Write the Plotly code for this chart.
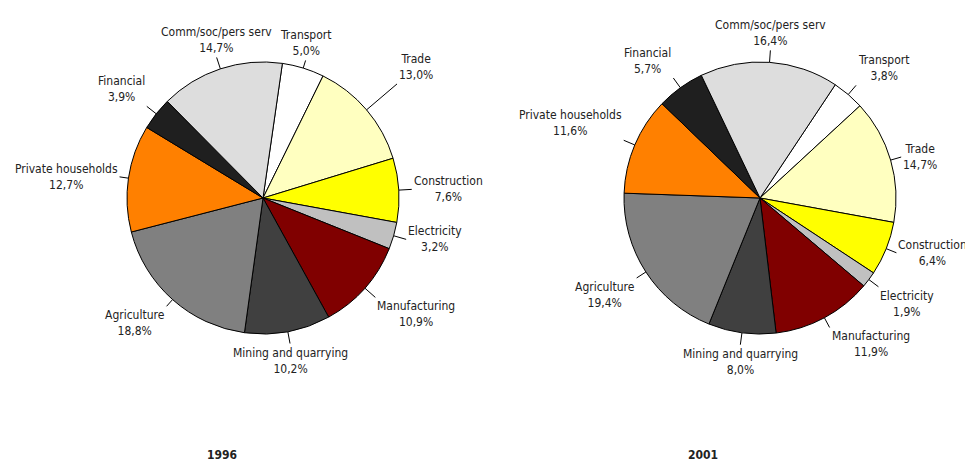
import numpy as np
import plotly.graph_objects as go

W, H = 965, 463

sectors = ["Transport", "Trade", "Construction", "Electricity", "Manufacturing",
           "Mining and quarrying", "Agriculture", "Private households", "Financial",
           "Comm/soc/pers serv"]
share_1996 = [5.0, 13.0, 7.6, 3.2, 10.9, 10.2, 18.8, 12.7, 3.9, 14.7]
share_2001 = [3.8, 14.7, 6.4, 1.9, 11.9, 8.0, 19.4, 11.6, 5.7, 16.4]
years = ["1996", "2001"]

colours = ["#ffffff", "#ffffc0", "#ffff00", "#c0c0c0", "#800000", "#404040",
           "#808080", "#ff8000", "#1f1f1f", "#dddddd"]

FONT = "DejaVu Sans Condensed, Liberation Sans Narrow, Arial Narrow, sans-serif"

# layout of each pie (pixels): centre, radius, first-slice angle, leader lengths
pies = [
    dict(values=share_1996, year=years[0], cx=263, cy=198, r=136, rot=8.2,
         leaders=[8, 40, 13, 13, 14, 12, 9, 9, 12, 12], year_x=222),
    dict(values=share_2001, year=years[1], cx=760, cy=198, r=136, rot=33.6,
         leaders=[12, 11, 11, 12, 11, 12, 11, 12, 12, 12], year_x=703),
]


def px(x, y):
    return x / W, 1 - y / H


fig = go.Figure()
shapes = []
annotations = []

for p in pies:
    vals = np.array(p["values"])
    cx, cy, r = p["cx"], p["cy"], p["r"]
    fig.add_trace(go.Pie(
        labels=sectors, values=vals, sort=False, direction="clockwise",
        rotation=p["rot"], textinfo="none", hoverinfo="label+value",
        marker=dict(colors=colours, line=dict(color="black", width=1)),
        domain=dict(x=[(cx - r) / W, (cx + r) / W],
                    y=[1 - (cy + r) / H, 1 - (cy - r) / H]),
        showlegend=False,
    ))

    mids = p["rot"] + 360 * (np.cumsum(vals) - vals / 2) / vals.sum()
    for name, v, ang, L in zip(sectors, vals, mids, p["leaders"]):
        t = np.radians(ang)
        s, c = np.sin(t), np.cos(t)
        x0, y0 = cx + r * s, cy - r * c
        x1, y1 = cx + (r + L) * s, cy - (r + L) * c
        shapes.append(dict(type="line", xref="paper", yref="paper",
                           x0=x0 / W, y0=1 - y0 / H, x1=x1 / W, y1=1 - y1 / H,
                           line=dict(color="black", width=1)))
        xa = "left" if s > 0.35 else ("right" if s < -0.35 else "center")
        ya = "bottom" if c > 0.33 else ("top" if c < -0.45 else "middle")
        ax, ay = px(x1, y1)
        annotations.append(dict(
            x=ax, y=ay, xref="paper", yref="paper", showarrow=False,
            xanchor=xa, yanchor=ya, align="center",
            text=f"{name}<br>{v:.1f}%".replace(".", ","),
            font=dict(family=FONT, size=12, color="#222222"),
        ))

    yx, yy = px(p["year_x"], 455)
    annotations.append(dict(
        x=yx, y=yy, xref="paper", yref="paper", showarrow=False,
        xanchor="center", yanchor="middle", text=f"<b>{p['year']}</b>",
        font=dict(family=FONT, size=12, color="#222222"),
    ))

fig.update_layout(
    width=W, height=H,
    margin=dict(l=0, r=0, t=0, b=0),
    paper_bgcolor="white", plot_bgcolor="white",
    shapes=shapes, annotations=annotations,
)

fig.write_html("out.html", config={"displayModeBar": False},
               post_script="document.body.style.margin='0';")
